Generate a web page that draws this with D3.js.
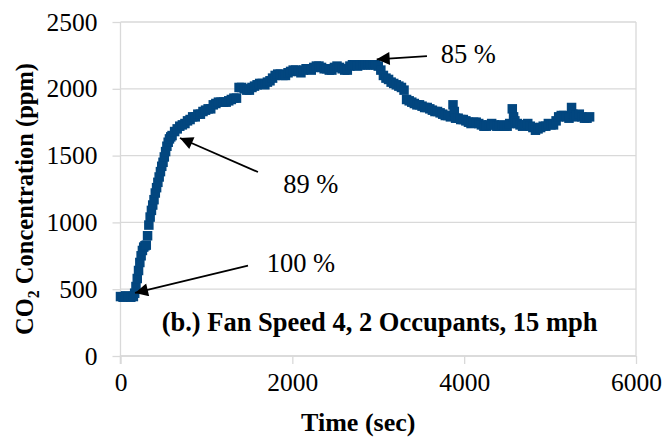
<!DOCTYPE html>
<html>
<head>
<meta charset="utf-8">
<script src="https://cdn.jsdelivr.net/npm/d3@7/dist/d3.min.js"></script>
<style>
  body { margin: 0; background: #fff; }
  svg { display: block; }
</style>
</head>
<body>
<div id="chart"></div>
<script>
// time (sec) and CO2 (ppm)
const times = [
  0, 30, 60, 90, 120, 150,
  165, 180, 195, 210, 225, 240, 255, 270, 285, 300, 315, 330, 345, 360, 375, 390,
  405, 420, 435, 450, 465, 480, 495, 510, 525, 540, 555, 570, 585,
  600, 630, 660, 690, 720, 750, 780, 810, 840, 870, 900, 930, 960, 990,
  1020, 1050, 1080, 1110, 1140, 1170, 1200, 1230, 1260, 1290, 1320, 1350, 1380, 1410,
  1440, 1470, 1500, 1530, 1560, 1590, 1620, 1650, 1680, 1710, 1740, 1770, 1800, 1830,
  1860, 1890, 1920, 1950, 1980, 2010, 2040, 2070, 2100, 2130, 2160, 2190, 2220, 2250,
  2280, 2310, 2340, 2370, 2400, 2430, 2460, 2490, 2520, 2550, 2580, 2610, 2640, 2670,
  2700, 2730, 2760, 2790, 2820, 2850, 2880, 2910, 2940, 2970, 3000, 3030, 3060, 3090,
  3120, 3150, 3180, 3210, 3240, 3270, 3300, 3330, 3360, 3390, 3420, 3450, 3480, 3510,
  3540, 3570, 3600, 3630, 3660, 3690, 3720, 3750, 3780, 3810, 3840, 3870, 3885, 3900,
  3930, 3960, 3990, 4020, 4050, 4080, 4110, 4140, 4170, 4200, 4230, 4260, 4290, 4320,
  4350, 4380, 4410, 4440, 4470, 4500, 4530, 4560, 4575, 4590, 4620, 4650, 4680, 4710,
  4740, 4770, 4800, 4830, 4860, 4890, 4920, 4950, 4980, 5010, 5040, 5070, 5100, 5130,
  5160, 5190, 5220, 5250, 5265, 5280, 5310, 5340, 5370, 5400, 5430, 5460
];
const co2 = [
  445, 440, 450, 445, 440, 445,
  470, 520, 580, 640, 700, 750, 790, 815, 825, 830, 900, 980, 1040, 1090, 1130, 1170,
  1220, 1260, 1300, 1340, 1380, 1420, 1450, 1490, 1530, 1570, 1600, 1625, 1640,
  1650, 1680, 1700, 1720, 1730, 1740, 1760, 1770, 1790, 1790, 1810, 1810, 1830, 1840,
  1850, 1850, 1880, 1890, 1900, 1900, 1900, 1900, 1910, 1920, 1930, 1930, 2010, 2010,
  2000, 1990, 1990, 2010, 2020, 2030, 2040, 2040, 2030, 2050, 2060, 2080, 2100, 2110,
  2110, 2100, 2100, 2120, 2130, 2140, 2140, 2130, 2120, 2140, 2150, 2150, 2140, 2160,
  2170, 2170, 2160, 2150, 2150, 2140, 2140, 2160, 2170, 2160, 2150, 2140, 2140, 2170,
  2180, 2180, 2170, 2180, 2180, 2180, 2180, 2180, 2180, 2180, 2170, 2140, 2100, 2080,
  2070, 2050, 2040, 2030, 2020, 2010, 1990, 1920, 1910, 1900, 1890, 1880, 1880, 1870,
  1860, 1860, 1850, 1840, 1830, 1830, 1820, 1810, 1800, 1800, 1790, 1880, 1830, 1780,
  1780, 1770, 1770, 1760, 1750, 1740, 1750, 1750, 1740, 1730, 1720, 1720, 1730, 1740,
  1730, 1720, 1720, 1730, 1720, 1720, 1740, 1850, 1790, 1760, 1740, 1730, 1720, 1730,
  1740, 1720, 1710, 1690, 1700, 1710, 1720, 1720, 1740, 1730, 1730, 1760, 1790, 1800,
  1800, 1790, 1780, 1860, 1810, 1790, 1800, 1810, 1790, 1780, 1780, 1790
];

const xTicks = [0, 2000, 4000, 6000];
const yTicks = [0, 500, 1000, 1500, 2000, 2500];

// annotations: arrow tip, arrow tail and text position, in data units
const noteLabels = ['100 %', '89 %', '85 %'];
const noteTip = [[169, 472], [692, 1632], [2982, 2221]];
const noteTail = [[1484, 676], [1600, 1377], [3567, 2245]];
const noteText = [[1702, 631], [1893, 1220], [3727, 2191]];

const caption = '(b.) Fan Speed 4, 2 Occupants, 15 mph';
const captionPos = [479, 189];

const FONT = "'Liberation Serif', 'Times New Roman', serif";

const margin = { top: 22, right: 29, bottom: 81, left: 120.5 };
const W = 665, H = 437;
const width = W - margin.left - margin.right;
const height = H - margin.top - margin.bottom;

const svg = d3.select('#chart').append('svg')
    .attr('width', W)
    .attr('height', H)
    .style('font-family', FONT);

svg.append('defs').append('marker')
    .attr('id', 'arrow')
    .attr('viewBox', '0 0 10 10')
    .attr('refX', 10).attr('refY', 5)
    .attr('markerUnits', 'userSpaceOnUse')
    .attr('markerWidth', 16).attr('markerHeight', 13)
    .attr('orient', 'auto')
    .append('path')
    .attr('d', 'M0,0L10,5L0,10z')
    .attr('fill', '#000');

const g = svg.append('g')
    .attr('transform', 'translate(' + margin.left + ',' + margin.top + ')');

const x = d3.scaleLinear().domain([0, 6000]).range([0, width]);
const y = d3.scaleLinear().domain([0, 2500]).range([height, 0]);

// gridlines
g.selectAll('.grid')
    .data(yTicks)
    .enter().append('line')
    .attr('x1', 0).attr('x2', width)
    .attr('y1', d => y(d)).attr('y2', d => y(d))
    .attr('stroke', '#d9d9d9')
    .attr('stroke-width', 1.3);

// right border
g.append('line')
    .attr('x1', width).attr('x2', width)
    .attr('y1', 0).attr('y2', height)
    .attr('stroke', '#d9d9d9').attr('stroke-width', 1.3);

const xAxis = g.append('g')
    .attr('transform', 'translate(0,' + height + ')')
    .call(d3.axisBottom(x).tickValues(xTicks).tickSize(8).tickPadding(9).tickFormat(d3.format('d')));
const yAxis = g.append('g')
    .call(d3.axisLeft(y).tickValues(yTicks).tickSize(8).tickPadding(15).tickFormat(d3.format('d')));

[xAxis, yAxis].forEach(a => {
    a.attr('font-family', null).attr('font-size', 25.5);
    a.select('.domain').attr('stroke', '#d9d9d9').attr('stroke-width', 1.3);
    a.selectAll('.tick line').attr('stroke', '#d9d9d9').attr('stroke-width', 1.3);
    a.selectAll('.tick text').attr('fill', '#000').style('font-family', FONT);
});
xAxis.select('.domain').attr('d', 'M0,8V0H' + width);
yAxis.select('.domain').attr('d', 'M0,0V' + (height + 8));

// data markers
const pts = times.map((t, i) => ({ t: t, v: co2[i] }));
const s = 9.5;
g.selectAll('.pt')
    .data(pts)
    .enter().append('rect')
    .attr('x', d => x(d.t) - s / 2)
    .attr('y', d => y(d.v) - s / 2)
    .attr('width', s)
    .attr('height', s)
    .attr('fill', '#02467f');

// arrows and labels
noteLabels.forEach((lab, i) => {
    g.append('line')
        .attr('x1', x(noteTail[i][0])).attr('y1', y(noteTail[i][1]))
        .attr('x2', x(noteTip[i][0])).attr('y2', y(noteTip[i][1]))
        .attr('stroke', '#000')
        .attr('stroke-width', 1.8)
        .attr('marker-end', 'url(#arrow)');
    g.append('text')
        .attr('x', x(noteText[i][0]))
        .attr('y', y(noteText[i][1]))
        .attr('font-size', 26.5)
        .style('font-family', FONT)
        .text(lab);
});

g.append('text')
    .attr('x', x(captionPos[0]))
    .attr('y', y(captionPos[1]))
    .attr('font-size', 26.5)
    .attr('font-weight', 'bold')
    .style('font-family', FONT)
    .text(caption);

// axis titles
svg.append('text')
    .attr('x', margin.left + width / 2 - 20)
    .attr('y', 431)
    .attr('text-anchor', 'middle')
    .attr('font-size', 26)
    .attr('font-weight', 'bold')
    .style('font-family', FONT)
    .text('Time (sec)');

const yt = svg.append('text')
    .attr('transform', 'translate(33,' + (margin.top + height / 2 + 10) + ') rotate(-90)')
    .attr('text-anchor', 'middle')
    .attr('font-size', 24.5)
    .attr('font-weight', 'bold')
    .style('font-family', FONT);
yt.append('tspan').text('CO');
yt.append('tspan').attr('dy', 6).attr('font-size', 16).text('2');
yt.append('tspan').attr('dy', -6).text(' Concentration (ppm)');
</script>
</body>
</html>
